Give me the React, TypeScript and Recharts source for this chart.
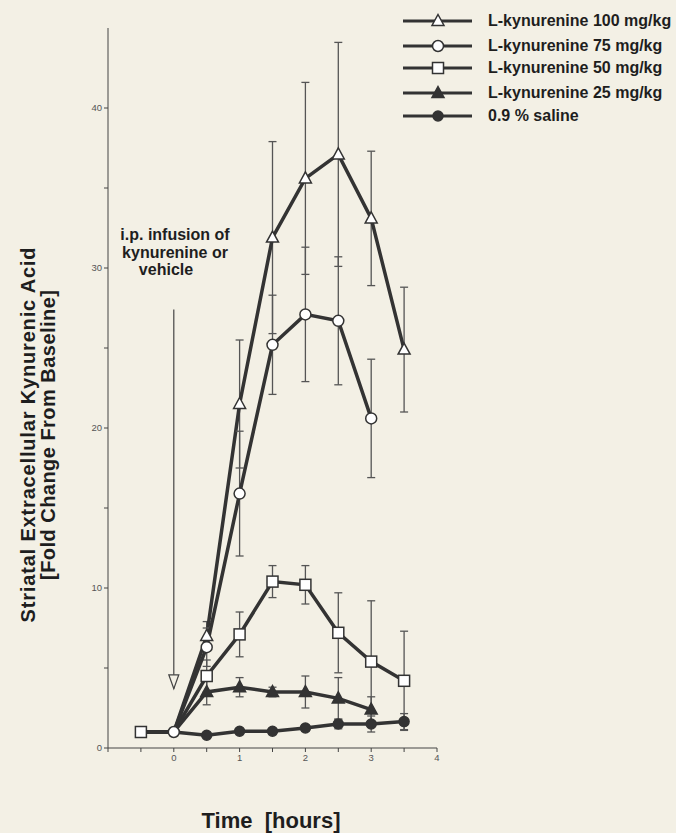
import React from 'react';
import {
  LineChart,
  Line,
  XAxis,
  YAxis,
  ErrorBar,
  ReferenceLine,
  ReferenceDot,
} from 'recharts';

// Time points (hours relative to i.p. infusion)
const TIMES = [-0.5, 0, 0.5, 1, 1.5, 2, 2.5, 3, 3.5];

// Fold change from baseline
const KYN100 = [1.0, 1.0, 7.0, 21.5, 31.9, 35.6, 37.1, 33.1, 24.9];
const KYN100_ERR = [null, null, 0.9, 4.0, 6.0, 6.0, 7.0, 4.2, 3.9];
const KYN75 = [1.0, 1.0, 6.3, 15.9, 25.2, 27.1, 26.7, 20.6, null];
const KYN75_ERR = [null, null, 1.2, 3.9, 3.1, 4.2, 4.0, 3.7, null];
const KYN50 = [1.0, 1.0, 4.5, 7.1, 10.4, 10.2, 7.2, 5.4, 4.2];
const KYN50_ERR = [null, null, 1.0, 1.4, 1.0, 1.2, 2.5, 3.8, 3.1];
const KYN25 = [1.0, 1.0, 3.5, 3.8, 3.5, 3.5, 3.1, 2.4, null];
const KYN25_ERR = [null, null, 0.8, 0.6, 0.3, 1.0, 1.3, 0.8, null];
const SALINE = [1.0, 1.0, 0.8, 1.05, 1.05, 1.25, 1.5, 1.5, 1.65];
const SALINE_ERR = [null, null, 0.1, 0.1, 0.1, 0.2, 0.3, 0.5, 0.5];

const X_TICKS = [-1, -0.5, 0, 0.5, 1, 1.5, 2, 2.5, 3, 3.5, 4];
const Y_TICKS = [0, 5, 10, 15, 20, 25, 30, 35, 40];

const LEGEND = [
  { label: 'L-kynurenine 100 mg/kg', shape: 'triangle', filled: false },
  { label: 'L-kynurenine 75 mg/kg', shape: 'circle', filled: false },
  { label: 'L-kynurenine 50 mg/kg', shape: 'square', filled: false },
  { label: 'L-kynurenine 25 mg/kg', shape: 'triangle', filled: true },
  { label: '0.9 % saline', shape: 'circle', filled: true },
];

const ANNOTATION = ['i.p. infusion of', 'kynurenine or', 'vehicle'];

const data = TIMES.map((t, i) => ({
  t,
  k100: KYN100[i],
  k100e: KYN100_ERR[i],
  k75: KYN75[i],
  k75e: KYN75_ERR[i],
  k50: KYN50[i],
  k50e: KYN50_ERR[i],
  k25: KYN25[i],
  k25e: KYN25_ERR[i],
  sal: SALINE[i],
  sale: SALINE_ERR[i],
}));

const BG = '#f3f0e5';
const INK = '#333333';
const TEXT = '#1e1e1e';
const FONT = '"Liberation Sans", Arial, sans-serif';

const markerPath = (shape: string, filled: boolean, cx: number, cy: number) => {
  const fill = filled ? INK : '#ffffff';
  if (shape === 'circle') {
    return <circle cx={cx} cy={cy} r={filled ? 5 : 5.5} fill={fill} stroke={INK} strokeWidth={1.5} />;
  }
  if (shape === 'square') {
    return <rect x={cx - 5.5} y={cy - 5.5} width={11} height={11} fill={fill} stroke={INK} strokeWidth={1.5} />;
  }
  return (
    <path
      d={`M${cx},${cy - 6.5} L${cx + 6},${cy + 4.5} L${cx - 6},${cy + 4.5} Z`}
      fill={fill}
      stroke={INK}
      strokeWidth={1.5}
    />
  );
};

const makeDot = (shape: string, filled: boolean, hide: number[]) => (props: any) => {
  const { cx, cy, index, value } = props;
  const key = `${shape}-${filled}-${index}`;
  if (cx == null || cy == null || value == null || hide.includes(index)) return <g key={key} />;
  return <g key={key}>{markerPath(shape, filled, cx, cy)}</g>;
};

const LegendRow: React.FC<{ label: string; shape: string; filled: boolean; top: number }> = ({
  label,
  shape,
  filled,
  top,
}) => (
  <div style={{ position: 'absolute', left: 400, top, height: 20, display: 'flex', alignItems: 'center' }}>
    <svg width={76} height={20}>
      <line x1={3} y1={10} x2={72} y2={10} stroke={INK} strokeWidth={3} />
      {markerPath(shape, filled, 38, 10)}
    </svg>
    <span
      style={{
        marginLeft: 12,
        fontFamily: FONT,
        fontWeight: 'bold',
        fontSize: 16,
        color: TEXT,
        whiteSpace: 'nowrap',
      }}
    >
      {label}
    </span>
  </div>
);

const App: React.FC = () => {
  const legendTops = [11, 36, 58, 83, 106];
  return (
    <div style={{ position: 'absolute', left: 0, top: 0, width: 676, height: 833, background: BG, overflow: 'hidden' }}>
      <LineChart
        width={676}
        height={833}
        data={data}
        margin={{ top: 28, right: 239, left: 68, bottom: 55 }}
      >
        <XAxis
          dataKey="t"
          type="number"
          domain={[-1, 4]}
          ticks={X_TICKS}
          tickFormatter={(v: number) => (Number.isInteger(v) && v >= 0 ? String(v) : '')}
          tick={{ fontSize: 9.5, fill: '#555', fontFamily: FONT }}
          tickSize={4}
          stroke="#444"
          height={30}
          allowDataOverflow
        />
        <YAxis
          type="number"
          domain={[0, 45]}
          ticks={Y_TICKS}
          tickFormatter={(v: number) => (v % 10 === 0 ? String(v) : '')}
          tick={{ fontSize: 9.5, fill: '#555', fontFamily: FONT }}
          tickSize={4}
          stroke="#444"
          width={40}
          allowDataOverflow
        />
        <ReferenceLine
          segment={[{ x: 0, y: 3.7 }, { x: 0, y: 27.4 }]}
          stroke="#444"
          strokeWidth={1.2}
        />
        <ReferenceDot
          x={0}
          y={3.7}
          r={0}
          shape={(p: any) => (
            <path
              d={`M${p.cx - 5},${p.cy - 14} L${p.cx + 5},${p.cy - 14} L${p.cx},${p.cy} Z`}
              fill={BG}
              stroke="#444"
              strokeWidth={1.2}
            />
          )}
        />
        <Line
          dataKey="sal"
          stroke={INK}
          strokeWidth={3.5}
          isAnimationActive={false}
          dot={makeDot('circle', true, [0, 1])}
        >
          <ErrorBar dataKey="sale" width={4} stroke="#555" strokeWidth={1.3} direction="y" />
        </Line>
        <Line
          dataKey="k25"
          stroke={INK}
          strokeWidth={3.5}
          isAnimationActive={false}
          dot={makeDot('triangle', true, [0, 1])}
        >
          <ErrorBar dataKey="k25e" width={4} stroke="#555" strokeWidth={1.3} direction="y" />
        </Line>
        <Line
          dataKey="k100"
          stroke={INK}
          strokeWidth={3.5}
          isAnimationActive={false}
          dot={makeDot('triangle', false, [0, 1])}
        >
          <ErrorBar dataKey="k100e" width={4} stroke="#555" strokeWidth={1.3} direction="y" />
        </Line>
        <Line
          dataKey="k50"
          stroke={INK}
          strokeWidth={3.5}
          isAnimationActive={false}
          dot={makeDot('square', false, [1])}
        >
          <ErrorBar dataKey="k50e" width={4} stroke="#555" strokeWidth={1.3} direction="y" />
        </Line>
        <Line
          dataKey="k75"
          stroke={INK}
          strokeWidth={3.5}
          isAnimationActive={false}
          dot={makeDot('circle', false, [0])}
        >
          <ErrorBar dataKey="k75e" width={4} stroke="#555" strokeWidth={1.3} direction="y" />
        </Line>
      </LineChart>

      {/* Legend */}
      {LEGEND.map((l, i) => (
        <LegendRow key={l.label} label={l.label} shape={l.shape} filled={l.filled} top={legendTops[i]} />
      ))}

      {/* Infusion annotation */}
      <div
        style={{
          position: 'absolute',
          left: 100,
          top: 226,
          width: 150,
          textAlign: 'center',
          fontFamily: FONT,
          fontWeight: 'bold',
          fontSize: 16,
          lineHeight: '17.5px',
          color: TEXT,
        }}
      >
        {ANNOTATION.map((s, i) => (
          <div key={s} style={{ paddingRight: i === 2 ? 18 : 0 }}>
            {s}
          </div>
        ))}
      </div>

      {/* Axis titles */}
      <svg width={676} height={833} style={{ position: 'absolute', left: 0, top: 0, pointerEvents: 'none' }}>
        <g transform="translate(28,435) rotate(-90)">
          <text
            textAnchor="middle"
            dominantBaseline="central"
            fontFamily={FONT}
            fontWeight="bold"
            fontSize={20}
            fill={TEXT}
            textLength={375}
            lengthAdjust="spacing"
          >
            Striatal Extracellular Kynurenic Acid
          </text>
        </g>
        <g transform="translate(48,435) rotate(-90)">
          <text
            textAnchor="middle"
            dominantBaseline="central"
            fontFamily={FONT}
            fontWeight="bold"
            fontSize={20}
            fill={TEXT}
            textLength={290}
            lengthAdjust="spacing"
          >
            [Fold Change From Baseline]
          </text>
        </g>
        <text x={271} y={828} textAnchor="middle" fontFamily={FONT} fontWeight="bold" fontSize={22} fill={TEXT} xmlSpace="preserve">
          Time  [hours]
        </text>
      </svg>
    </div>
  );
};

export default App;
